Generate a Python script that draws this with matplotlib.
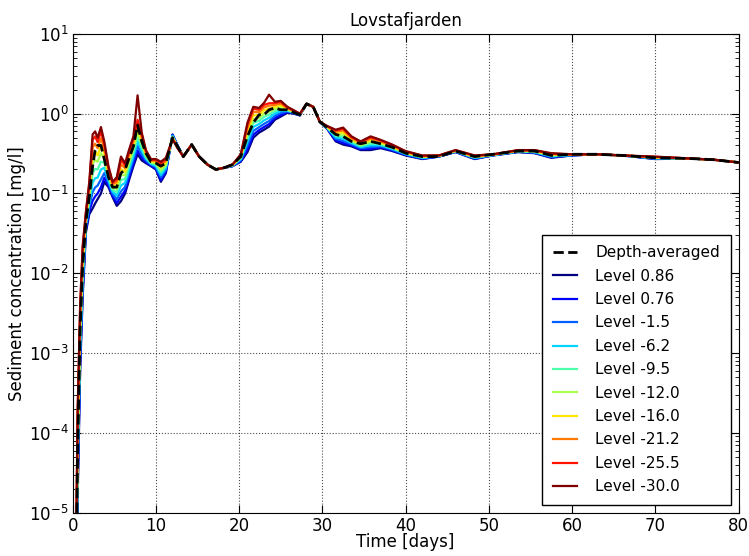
"""Sediment concentration time series at Lovstafjarden, per model level."""
import matplotlib
matplotlib.use('Agg')
import matplotlib.pyplot as plt
import numpy as np

# Time axis [days]
time_days = [0.35, 0.6, 0.9, 1.2, 1.6, 2.0, 2.4, 2.7, 3.0, 3.4, 3.8, 4.3,
             4.8, 5.3, 5.8, 6.3, 6.8, 7.3, 7.8, 8.3, 8.8, 9.4, 10.0, 10.6,
             11.2, 12.0, 12.6, 13.3, 14.3, 15.2, 16.2, 17.2, 18.2, 19.2, 20.2, 21.0,
             21.7, 22.4, 23.0, 23.6, 24.3, 25.0, 25.8, 26.6, 27.3, 28.1, 28.9, 29.7,
             30.6, 31.6, 32.5, 33.5, 34.6, 35.8, 37.0, 38.4, 40.0, 42.0, 44.0, 46.0,
             48.3, 50.5, 53.5, 55.5, 57.5, 60.0, 63.0, 66.0, 70.0, 74.0, 77.0, 80.0]

# Depth-averaged concentration [mg/l]
depth_avg = [5e-7, 6e-5, 2e-3, 1.2e-2, .045, .09, .22, .35, .40, .40, .27, .16,
             .12, .12, .18, .20, .28, .39, .72, .45, .32, .25, .24, .22,
             .24, .50, .39, .29, .41, .29, .23, .20, .21, .23, .29, .52,
             .77, .97, .97, 1.12, 1.18, 1.12, 1.12, 1.03, .97, 1.33, 1.22, .79,
             .67, .55, .52, .45, .42, .45, .42, .38, .32, .29, .29, .34,
             .29, .31, .34, .34, .30, .31, .31, .30, .28, .275, .265, .245]

# Concentration per level [mg/l]
lev_0_86 = [1.0e-7, 1.5e-5, 6.0e-4, 5.0e-3, .033, .055, .065, .075, .085, .10, .14, .12,
            .09, .07, .08, .10, .15, .22, .31, .26, .24, .22, .20, .14,
            .18, .55, .40, .29, .41, .29, .23, .20, .21, .22, .25, .33,
            .50, .58, .63, .69, .84, .92, 1.03, 1.0, .95, 1.33, 1.22, .79,
            .64, .45, .41, .39, .35, .35, .37, .34, .30, .27, .29, .33,
            .27, .30, .33, .32, .28, .30, .31, .30, .27, .275, .265, .245]
lev_0_76 = [1.3e-7, 1.9e-5, 7.2e-4, 5.8e-3, .035, .060, .081, .092, .10, .12, .157, .127,
            .094, .076, .091, .109, .164, .239, .345, .282, .249, .224, .206, .148,
            .188, .543, .40, .29, .41, .29, .23, .20, .21, .22, .255, .36,
            .547, .622, .681, .741, .885, .964, 1.05, 1.01, .955, 1.33, 1.22, .79,
            .645, .466, .43, .401, .359, .364, .379, .346, .304, .273, .29, .332,
            .273, .30, .332, .323, .284, .30, .31, .30, .272, .275, .265, .245]
lev_m1_5 = [1.7e-7, 2.7e-5, 9.1e-4, 6.9e-3, .038, .068, .104, .119, .126, .15, .18, .137,
            .099, .084, .106, .121, .182, .265, .393, .31, .26, .23, .214, .159,
            .198, .534, .395, .29, .41, .29, .23, .20, .21, .22, .262, .40,
            .608, .678, .746, .809, .942, 1.02, 1.07, 1.02, .96, 1.33, 1.22, .79,
            .652, .484, .457, .415, .37, .382, .39, .354, .308, .276, .292, .334,
            .276, .302, .334, .326, .288, .302, .31, .30, .274, .275, .265, .245]
lev_m6_2 = [2.2e-7, 3.7e-5, 1.2e-3, 8.3e-3, .041, .076, .137, .155, .158, .20, .21, .148,
            .105, .094, .126, .136, .204, .297, .451, .344, .273, .236, .221, .171,
            .209, .525, .39, .29, .41, .29, .23, .20, .21, .225, .27, .445,
            .682, .743, .826, .889, 1.01, 1.08, 1.09, 1.03, .965, 1.33, 1.22, .79,
            .66, .505, .487, .431, .382, .402, .402, .363, .313, .28, .293, .336,
            .28, .303, .336, .33, .293, .303, .31, .30, .276, .275, .265, .245]
lev_m9_5 = [3.0e-7, 5.2e-5, 1.5e-3, 1.0e-2, .044, .086, .181, .203, .20, .25, .243, .160,
            .111, .104, .148, .152, .228, .333, .518, .382, .287, .242, .23, .185,
            .22, .515, .388, .29, .41, .29, .23, .20, .21, .225, .277, .497,
            .767, .815, .914, .975, 1.08, 1.15, 1.11, 1.05, .975, 1.33, 1.22, .79,
            .667, .528, .518, .448, .395, .424, .415, .372, .318, .284, .295, .339,
            .284, .305, .339, .334, .298, .305, .31, .30, .279, .275, .265, .245]
lev_m12_0 = [4.0e-7, 7.1e-5, 1.9e-3, 1.2e-2, .047, .096, .234, .261, .25, .32, .28, .173,
             .117, .115, .173, .169, .253, .368, .589, .421, .30, .247, .239, .198,
             .23, .507, .385, .29, .41, .29, .23, .20, .21, .225, .284, .55,
             .853, .887, 1.0, 1.06, 1.15, 1.21, 1.12, 1.06, .98, 1.33, 1.22, .79,
             .673, .55, .55, .464, .407, .444, .427, .38, .322, .287, .296, .341,
             .287, .306, .341, .337, .303, .306, .31, .30, .281, .275, .265, .245]
lev_m16_0 = [5.2e-7, 9.8e-5, 2.3e-3, 1.45e-2, .051, .107, .30, .335, .30, .40, .32, .185,
             .124, .127, .202, .188, .282, .408, .67, .463, .314, .254, .248, .212,
             .245, .498, .38, .29, .41, .29, .23, .20, .21, .23, .29, .608,
             .95, .966, 1.10, 1.16, 1.22, 1.28, 1.16, 1.07, .985, 1.33, 1.22, .79,
             .68, .573, .584, .48, .419, .466, .44, .389, .327, .29, .297, .343,
             .29, .307, .343, .341, .307, .307, .31, .30, .283, .275, .265, .245]
lev_m21_2 = [6.8e-7, 1.3e-4, 2.9e-3, 1.7e-2, .054, .12, .38, .42, .37, .49, .37, .198,
             .130, .139, .233, .207, .31, .449, .753, .506, .328, .259, .256, .227,
             .257, .49, .377, .29, .41, .29, .23, .20, .21, .23, .297, .667,
             1.05, 1.045, 1.20, 1.26, 1.29, 1.34, 1.17, 1.08, .99, 1.33, 1.22, .79,
             .687, .595, .617, .495, .431, .487, .451, .397, .331, .293, .298, .346,
             .293, .308, .346, .344, .311, .308, .31, .30, .285, .275, .265, .245]
lev_m25_5 = [8.5e-7, 1.7e-4, 3.5e-3, 2.0e-2, .058, .13, .47, .52, .44, .60, .41, .211,
             .136, .151, .265, .225, .338, .49, .84, .548, .341, .265, .264, .24,
             .269, .484, .373, .29, .41, .29, .23, .20, .21, .23, .305, .726,
             1.15, 1.12, 1.29, 1.35, 1.36, 1.41, 1.20, 1.09, .995, 1.33, 1.22, .79,
             .695, .615, .647, .509, .442, .506, .463, .405, .336, .297, .299, .348,
             .297, .309, .348, .347, .316, .309, .31, .30, .288, .275, .265, .245]
lev_m30_0 = [1.0e-6, 2.0e-4, 4.0e-3, 2.2e-2, .060, .14, .55, .60, .50, .68, .45, .22,
             .14, .16, .29, .24, .36, .52, 1.7, .58, .35, .27, .27, .25,
             .28, .48, .37, .29, .41, .29, .23, .20, .21, .23, .31, .77,
             1.22, 1.18, 1.37, 1.73, 1.41, 1.45, 1.22, 1.1, 1.0, 1.33, 1.22, .79,
             .70, .63, .67, .52, .45, .52, .47, .41, .34, .30, .30, .35,
             .30, .31, .35, .35, .32, .31, .31, .30, .29, .275, .265, .245]

level_names = ['0.86', '0.76', '-1.5', '-6.2', '-9.5',
               '-12.0', '-16.0', '-21.2', '-25.5', '-30.0']
level_series = [lev_0_86, lev_0_76, lev_m1_5, lev_m6_2, lev_m9_5,
                lev_m12_0, lev_m16_0, lev_m21_2, lev_m25_5, lev_m30_0]

plt.rcParams['font.family'] = 'DejaVu Sans'
plt.rcParams['font.size'] = 12

fig = plt.figure(figsize=(7.49, 5.56), dpi=100)
ax = fig.add_axes([0.097, 0.078, 0.889, 0.861])

colors = plt.cm.jet(np.linspace(0, 1, len(level_names)))

handles = []
h, = ax.plot(time_days, depth_avg, 'k--', lw=2, zorder=5, label='Depth-averaged')
handles.append(h)
for name, ys, c in zip(level_names, level_series, colors):
    h, = ax.plot(time_days, ys, '-', color=c, lw=1.6, label=f'Level {name}')
    handles.append(h)

ax.set_yscale('log')
ax.set_xlim(0, 80)
ax.set_ylim(1e-5, 1e1)
ax.set_xticks(np.arange(0, 81, 10))
ax.tick_params(which='both', direction='in', top=True, right=True)
ax.tick_params(which='major', length=6, labelsize=12, pad=3)
ax.tick_params(which='minor', length=3)
ax.grid(True, which='major', color='k', linestyle=':', lw=0.8, alpha=0.7)

ax.set_title('Lovstafjarden', fontsize=12)
ax.set_xlabel('Time [days]', fontsize=12, labelpad=-1)
ax.set_ylabel('Sediment concentration [mg/l]', fontsize=12, labelpad=2)

leg = ax.legend(handles=handles, loc='lower right', fontsize=11,
                handlelength=1.6, handletextpad=1.2, labelspacing=0.55,
                fancybox=False, framealpha=1, edgecolor='k', borderpad=0.7,
                borderaxespad=0.5)
leg.get_frame().set_linewidth(1.0)

fig.savefig('out.png', dpi=100)
